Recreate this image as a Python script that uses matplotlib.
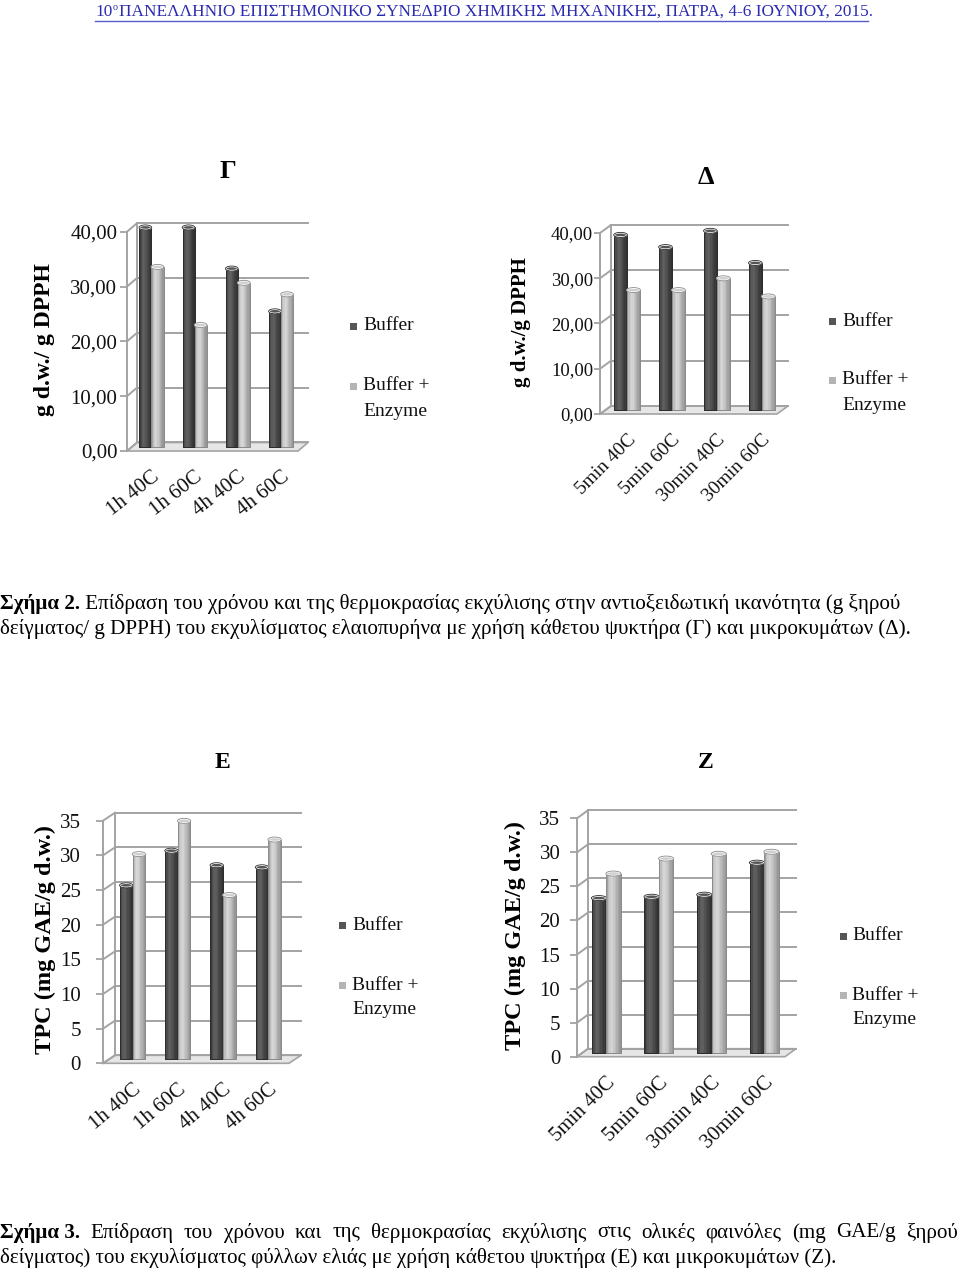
import matplotlib
matplotlib.use('Agg')
import matplotlib.pyplot as plt
import numpy as np
from matplotlib.patches import Rectangle, Ellipse, Polygon
from matplotlib.transforms import Affine2D
from matplotlib.lines import Line2D

plt.rcParams['font.family'] = ['Liberation Serif', 'DejaVu Serif']

# ---------------- data ----------------
cats_hours = ['1h 40C', '1h 60C', '4h 40C', '4h 60C']
cats_minutes = ['5min 40C', '5min 60C', '30min 40C', '30min 60C']
series_names = ['Buffer', 'Buffer +\nEnzyme']

dpph_reflux_buffer = [40.0, 40.0, 32.5, 24.7]
dpph_reflux_enzyme = [32.8, 22.2, 29.9, 27.8]
dpph_micro_buffer = [38.7, 36.0, 39.6, 32.5]
dpph_micro_enzyme = [26.5, 26.5, 29.1, 25.1]

tpc_reflux_buffer = [25.1, 30.1, 28.0, 27.7]
tpc_reflux_enzyme = [29.6, 34.4, 23.7, 31.7]
tpc_micro_buffer = [22.7, 22.9, 23.2, 27.9]
tpc_micro_enzyme = [26.3, 28.5, 29.2, 29.5]

dpph_ticks = [0, 10, 20, 30, 40]
dpph_ticklabels = ['0,00', '10,00', '20,00', '30,00', '40,00']
tpc_ticks = [0, 5, 10, 15, 20, 25, 30, 35]
tpc_ticklabels = ['0', '5', '10', '15', '20', '25', '30', '35']

header_text = 'ΠΑΝΕΛΛΗΝΙΟ ΕΠΙΣΤΗΜΟΝΙΚΟ ΣΥΝΕΔΡΙΟ ΧΗΜΙΚΗΣ ΜΗΧΑΝΙΚΗΣ, ΠΑΤΡΑ, 4-6 ΙΟΥΝΙΟΥ, 2015.'
cap2_bold = 'Σχήμα 2.'
cap2_l1 = ' Επίδραση του χρόνου και της θερμοκρασίας εκχύλισης στην αντιοξειδωτική ικανότητα (g ξηρού'
cap2_l2 = 'δείγματος/ g DPPH) του εκχυλίσματος ελαιοπυρήνα με χρήση κάθετου ψυκτήρα (Γ) και μικροκυμάτων (Δ).'
cap3_bold = 'Σχήμα 3.'
cap3_l1 = 'Επίδραση του χρόνου και της θερμοκρασίας εκχύλισης στις ολικές φαινόλες (mg GAE/g ξηρού'
cap3_l2 = 'δείγματος) του εκχυλίσματος φύλλων ελιάς με χρήση κάθετου ψυκτήρα (Ε) και μικροκυμάτων (Ζ).'

# ---------------- figure ----------------
W, H = 960, 1270
fig = plt.figure(figsize=(W / 100, H / 100), dpi=100)
fig.patch.set_facecolor('white')
pxT = Affine2D().scale(1 / W, -1 / H).translate(0, 1) + fig.transFigure
renderer = fig.canvas.get_renderer()

GRID = '#a3a3a3'
DARK = '#4c4c4c'
LIGHT = '#b9b9b9'
dark_prof = ['#3c3c3c', '#4c4c4c', '#595959', '#606060', '#5c5c5c', '#535353',
             '#4a4a4a', '#424242', '#3a3a3a', '#323232']
light_prof = ['#a2a2a2', '#bdbdbd', '#cdcdcd', '#d6d6d6', '#d2d2d2', '#c8c8c8',
              '#bcbcbc', '#b0b0b0', '#a4a4a4', '#979797']


def text_px(x, y, s, **kw):
    return fig.text(x, y, s, transform=pxT, **kw)


def draw_chart(front, ymax, xlim, depth, bw, cats, buf, enz, yticks, yticklabels,
               ytick_len, ytick_pad, ysize, xrot, xsize, xpad):
    x0, x1, ytop, ybot = front
    ax = fig.add_axes([x0 / W, 1 - ybot / H, (x1 - x0) / W, (ybot - ytop) / H])
    ax.set_xlim(*xlim)
    ax.set_ylim(0, ymax)
    for s in ax.spines.values():
        s.set_visible(False)
    ax.patch.set_visible(False)
    ppx = (x1 - x0) / (xlim[1] - xlim[0])
    ppy = (ybot - ytop) / ymax
    dxd = depth[0] / ppx
    dyd = depth[1] / ppy
    lw = 1.4
    # floor
    ax.add_patch(Polygon([[xlim[0], 0], [xlim[1], 0], [xlim[1] + dxd, dyd],
                          [xlim[0] + dxd, dyd]], closed=True, fc='#e6e6e6',
                         ec=GRID, lw=1.2, clip_on=False, zorder=1))
    # walls / gridlines
    for t in yticks:
        ax.add_line(Line2D([xlim[0] + dxd, xlim[1] + dxd], [t + dyd, t + dyd],
                           color=GRID, lw=lw, clip_on=False, zorder=1.5))
        ax.add_line(Line2D([xlim[0], xlim[0] + dxd], [t, t + dyd],
                           color=GRID, lw=lw, clip_on=False, zorder=1.5))
    ax.add_line(Line2D([xlim[0], xlim[0]], [0, ymax], color=GRID, lw=lw,
                       clip_on=False, zorder=1.5))
    ax.add_line(Line2D([xlim[0] + dxd, xlim[0] + dxd], [dyd, ymax + dyd],
                       color=GRID, lw=lw, clip_on=False, zorder=1.5))
    # bars
    x = np.arange(len(cats))
    b1 = ax.bar(x - bw / 2 + dxd / 2, buf, bw, bottom=dyd / 2, color=DARK,
                edgecolor='#2a2a2a', lw=0.6, zorder=3, clip_on=False)
    b2 = ax.bar(x + bw / 2 + dxd / 2, enz, bw, bottom=dyd / 2, color=LIGHT,
                edgecolor='#8a8a8a', lw=0.6, zorder=3, clip_on=False)
    eh = 4.0 / ppy
    for bars, prof, top_fc, ec, z in ((b1, dark_prof, '#555555', '#2a2a2a', 3),
                                      (b2, light_prof, '#cfcfcf', '#8a8a8a', 4)):
        for r in bars:
            bx, by, bwid, bh = r.get_x(), r.get_y(), r.get_width(), r.get_height()
            k = len(prof)
            for j, c in enumerate(prof):
                ax.add_patch(Rectangle((bx + j * bwid / k, by), bwid / k, bh, fc=c,
                                       ec='none', zorder=z + 0.1, clip_on=False))
            ax.add_patch(Rectangle((bx, by), bwid, bh, fc='none', ec=ec, lw=0.6,
                                   zorder=z + 0.2, clip_on=False))
            ax.add_patch(Ellipse((bx + bwid / 2, by + bh), bwid, eh, fc=top_fc,
                                 ec='white', lw=1.0, zorder=z + 0.3, clip_on=False))
            ax.add_patch(Ellipse((bx + bwid / 2, by + bh), bwid * 1.05, eh * 1.25,
                                 fc='none', ec=ec, lw=0.6, zorder=z + 0.35,
                                 clip_on=False))
    # ticks
    ax.set_yticks(yticks, labels=yticklabels)
    ax.tick_params(axis='y', length=ytick_len, width=1.3, color=GRID,
                   pad=ytick_pad, labelsize=ysize, labelcolor='#111111')
    ax.set_xticks(x + dxd / 2)
    ax.set_xticklabels(cats, rotation=xrot, ha='right', va='top',
                       rotation_mode='anchor', fontsize=xsize, color='#111111')
    ax.tick_params(axis='x', length=0, pad=xpad)
    return ax


def legend_px(dark_xy, light_xy, text_dx, size):
    for (cx, cy), col, lab in ((dark_xy, '#555555', series_names[0]),
                               (light_xy, '#b4b4b4', series_names[1])):
        fig.add_artist(Rectangle((cx - 3.5, cy - 3.5), 7, 7, fc=col, ec='none',
                                 transform=pxT))
        lines = lab.split('\n')
        for i, ln in enumerate(lines):
            text_px(cx + text_dx, cy + i * 25, ln, fontsize=size, ha='left',
                    va='center', color='#111111')


# Γ
draw_chart((127, 298, 231.7, 451), 40, (-0.45, 3.51), (10, 8.5), 0.28,
           cats_hours, dpph_reflux_buffer, dpph_reflux_enzyme,
           dpph_ticks, dpph_ticklabels, 5, 2, 15, 38, 15, 12)
text_px(45, 340, 'g d.w./ g DPPH', rotation=90, fontsize=17, fontweight='bold',
        ha='center', va='center')
text_px(228, 172, 'Γ', fontsize=19, fontweight='bold', ha='center', va='center')
legend_px((353, 326), (353, 386), 10, 14)

# Δ
draw_chart((600, 777, 233, 414), 40, (-0.48, 3.46), (11, 8), 0.29,
           cats_minutes, dpph_micro_buffer, dpph_micro_enzyme,
           dpph_ticks, dpph_ticklabels, 4, 1, 13.5, 45, 14, 12)
text_px(521, 322, 'g d.w./g DPPH', rotation=90, fontsize=15, fontweight='bold',
        ha='center', va='center')
text_px(706, 178, 'Δ', fontsize=19, fontweight='bold', ha='center', va='center')
legend_px((832, 321), (832, 380), 10, 14)

# Ε
draw_chart((103, 289, 820.7, 1063.3), 35, (-0.52, 3.59), (12, 8), 0.28,
           cats_hours, tpc_reflux_buffer, tpc_reflux_enzyme,
           tpc_ticks, tpc_ticklabels, 5, 11, 15, 40, 15, 12)
text_px(45, 940, 'TPC (mg GAE/g d.w.)', rotation=90, fontsize=17.5,
        fontweight='bold', ha='center', va='center')
text_px(222, 762, 'Ε', fontsize=17, fontweight='bold', ha='center', va='center')
legend_px((342, 925), (342, 985), 10, 14)

# Ζ
draw_chart((577, 785, 818.3, 1056.7), 35, (-0.45, 3.5), (11, 8), 0.275,
           cats_minutes, tpc_micro_buffer, tpc_micro_enzyme,
           tpc_ticks, tpc_ticklabels, 5, 7, 15, 45, 15, 12)
text_px(515, 936, 'TPC (mg GAE/g d.w.)', rotation=90, fontsize=17.5,
        fontweight='bold', ha='center', va='center')
text_px(706, 762, 'Ζ', fontsize=17, fontweight='bold', ha='center', va='center')
legend_px((843, 936), (843, 995), 9, 14)


# ---------------- header ----------------
def width_px(t):
    return t.get_window_extent(renderer).width


HC = '#2b2bb0'
h10 = text_px(95, 12, '10', fontsize=12, ha='left', va='center', color=HC)
w10 = width_px(h10)
ho = text_px(95 + w10, 8, 'ο', fontsize=7, ha='left', va='center', color=HC)
wo = width_px(ho)
hrest = text_px(95 + w10 + wo + 2, 12, header_text, fontsize=12, ha='left',
                va='center', color=HC)
tot = w10 + wo + 2 + width_px(hrest)
scale = (868 - 95) / tot
for t in (h10, hrest):
    t.set_fontsize(12 * scale)
ho.set_fontsize(7 * scale)
w10 = width_px(h10)
wo = width_px(ho)
ho.set_position((95 + w10, 8))
hrest.set_position((95 + w10 + wo + 2, 12))
fig.add_artist(Line2D([95, 868], [21, 21], color='#5a5acc', lw=1.0,
                      transform=pxT))

# ---------------- captions ----------------
cs = 13.0
probe = text_px(0, 629, cap2_l2, fontsize=cs, ha='left', va='center')
cs = cs * 905 / width_px(probe)
probe.set_fontsize(cs)

b = text_px(0, 604, cap2_bold, fontsize=cs, fontweight='bold', ha='left', va='center')
text_px(width_px(b), 604, cap2_l1, fontsize=cs, ha='left', va='center')

# caption 3 line 1 justified
words = [(cap3_bold, 'bold')] + [(w, 'normal') for w in cap3_l1.split(' ')]
arts = []
for w_, fw in words:
    arts.append(text_px(0, 1233, w_, fontsize=cs, fontweight=fw, ha='left',
                        va='center'))
widths = [width_px(a) for a in arts]
gap = (958 - sum(widths)) / (len(arts) - 1)
xpos = 0
for a, wd in zip(arts, widths):
    a.set_position((xpos, 1233))
    xpos += wd + gap
text_px(0, 1258, cap3_l2, fontsize=cs, ha='left', va='center')

fig.savefig('out.png', dpi=100, facecolor='white')
